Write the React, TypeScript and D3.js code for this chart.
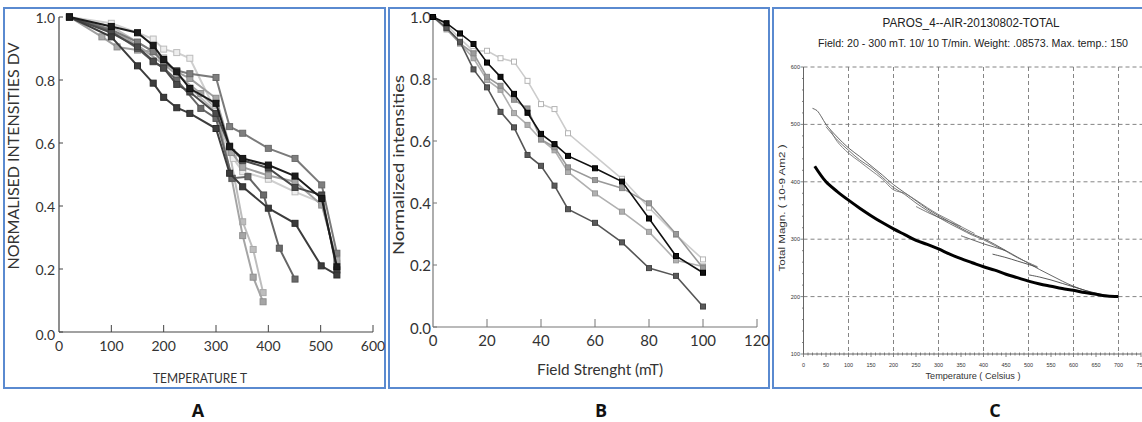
import React from "react";
import * as d3 from "d3";

// ---------- Panel A data: [temperature, normalised intensity] ----------
const aSeries1 = [[20,1.0],[100,0.97],[150,0.95],[180,0.91],[200,0.865],[225,0.826],[250,0.773],[300,0.726],[326,0.588],[351,0.551],[400,0.53],[451,0.495],[502,0.424],[531,0.207]];
const aSeries2 = [[20,1.0],[100,0.937],[150,0.845],[180,0.79],[200,0.745],[225,0.712],[250,0.694],[300,0.646],[326,0.504],[351,0.461],[400,0.393],[451,0.345],[501,0.21],[531,0.181]];
const aSeries3 = [[20,1.0],[100,0.96],[150,0.92],[180,0.89],[200,0.855],[225,0.83],[250,0.82],[300,0.808],[326,0.652],[351,0.631],[400,0.583],[451,0.551],[502,0.467],[531,0.25]];
const aSeries4 = [[20,1.0],[100,0.95],[150,0.905],[180,0.86],[200,0.838],[225,0.786],[250,0.762],[300,0.694],[326,0.59],[351,0.545],[400,0.52],[451,0.459],[502,0.435],[531,0.197]];
const aSeries5 = [[20,1.0],[100,0.98],[150,0.95],[180,0.93],[200,0.898],[225,0.887],[250,0.869],[300,0.7],[333,0.551],[351,0.509],[400,0.485],[451,0.445],[502,0.41],[531,0.218]];
const aSeries6 = [[20,1.0],[82,0.937],[111,0.905],[150,0.895],[180,0.89],[200,0.86],[225,0.826],[250,0.805],[300,0.742],[330,0.57],[351,0.523],[400,0.497],[451,0.477],[502,0.403],[531,0.228]];
const aSeries7 = [[20,1.0],[100,0.955],[150,0.9],[180,0.858],[200,0.838],[225,0.8],[271,0.71],[300,0.678],[331,0.488],[361,0.493],[391,0.435],[421,0.266],[451,0.168]];
const aSeries8 = [[20,1.0],[100,0.97],[150,0.92],[200,0.87],[250,0.775],[300,0.70],[326,0.57],[351,0.35],[371,0.262],[390,0.125]];
const aSeries9 = [[20,1.0],[100,0.96],[150,0.91],[200,0.85],[271,0.757],[300,0.71],[330,0.487],[351,0.306],[371,0.174],[390,0.096]];
const aXTicks = [0, 100, 200, 300, 400, 500, 600];
const aYTicks = [0, 0.2, 0.4, 0.6, 0.8, 1.0];

// ---------- Panel B data: [field mT, normalized intensity] ----------
const bSeries1 = [[0,1],[5,0.98],[10,0.947],[15,0.913],[20,0.853],[25,0.807],[30,0.752],[35,0.691],[40,0.623],[45,0.59],[50,0.552],[60,0.512],[70,0.469],[80,0.35],[90,0.229],[100,0.175]];
const bSeries2 = [[0,1],[5,0.975],[10,0.93],[15,0.89],[20,0.891],[25,0.867],[30,0.856],[35,0.794],[40,0.719],[45,0.703],[50,0.625],[70,0.478],[80,0.385],[90,0.297],[100,0.218]];
const bSeries3 = [[0,1],[5,0.965],[10,0.915],[15,0.883],[20,0.807],[25,0.778],[30,0.733],[35,0.705],[40,0.605],[45,0.58],[50,0.515],[60,0.474],[70,0.448],[80,0.399],[90,0.3],[100,0.19]];
const bSeries4 = [[0,1],[5,0.96],[10,0.915],[15,0.867],[20,0.797],[25,0.765],[30,0.69],[35,0.652],[40,0.605],[45,0.57],[50,0.5],[60,0.431],[70,0.372],[80,0.307],[90,0.215],[100,0.195]];
const bSeries5 = [[0,1],[5,0.965],[10,0.92],[15,0.831],[20,0.773],[25,0.694],[30,0.644],[35,0.555],[40,0.52],[45,0.456],[50,0.38],[60,0.336],[70,0.273],[80,0.19],[90,0.165],[100,0.066]];
const bXTicks = [0, 20, 40, 60, 80, 100, 120];
const bYTicks = [0, 0.2, 0.4, 0.6, 0.8, 1.0];

// ---------- Panel C data: [temperature C, total magnetisation] ----------
const cThin1 = [[20,528],[30,524],[40,513],[50,500],[75,478],[100,459],[125,444],[150,428],[175,412],[200,395],[225,381],[250,367],[275,353],[300,341],[325,330],[350,319],[375,309],[400,301],[425,291],[450,280],[475,269],[500,258],[525,247],[550,237],[575,227],[600,218],[625,211],[650,205],[675,201],[700,200]];
const cThin2 = [[50,496],[75,473],[100,455],[125,438],[150,425],[175,408],[200,390],[225,378],[250,363],[275,350],[300,338],[325,327],[350,317],[375,307],[400,299],[425,289],[450,279],[475,268],[500,259],[520,252]];
const cThin3 = [[60,490],[75,470],[100,450],[125,435],[150,420],[175,405],[200,386],[225,380],[250,368],[275,355],[300,343],[325,333],[350,322],[380,310]];
const cSeg1 = [[250,357],[275,347],[300,338],[325,330],[350,322]];
const cSeg2 = [[350,306],[375,299],[400,292],[425,286],[450,280]];
const cSeg3 = [[420,274],[450,268],[475,262],[500,256],[520,251]];
const cSeg4 = [[500,238],[525,234],[550,229],[575,223],[600,217],[625,211],[650,206],[675,202],[700,200]];
const cBold = [[25,427],[50,400],[75,383],[100,368],[125,354],[150,341],[175,329],[200,318],[225,308],[250,298],[275,291],[300,283],[325,274],[350,266],[375,259],[400,252],[425,246],[450,239],[475,233],[500,227],[525,222],[550,218],[575,214],[600,211],[625,207],[650,204],[675,201],[700,200]];
const cXTicks = [0, 50, 100, 150, 200, 250, 300, 350, 400, 450, 500, 550, 600, 650, 700, 750];
const cYTicks = [100, 200, 300, 400, 500, 600];

const cTitle = "PAROS_4--AIR-20130802-TOTAL";
const cSubtitle = "Field: 20 - 300 mT. 10/ 10 T/min. Weight:  .08573. Max. temp.:  150";

const BORDER = "#5a8ad0";
const FONT_AB = "Lato, 'Open Sans', sans-serif";
const FONT_C = "'Liberation Sans', Arial, sans-serif";

type Pt = number[];

function Markers({ data, x, y, fill, stroke, size }: any) {
  return (
    <g>
      {data.map((d: Pt, i: number) => (
        <rect key={i} x={x(d[0]) - size / 2} y={y(d[1]) - size / 2} width={size} height={size}
          fill={fill} stroke={stroke} strokeWidth={1} />
      ))}
    </g>
  );
}

function PanelA() {
  const x = d3.scaleLinear().domain([0, 600]).range([59, 373]);
  const y = d3.scaleLinear().domain([0, 1]).range([332, 17]);
  const line = d3.line<Pt>().x(d => x(d[0])).y(d => y(d[1]));
  const styles = [
    { data: aSeries8, line: "#bdbdbd", fill: "#bdbdbd", stroke: "#a8a8a8" },
    { data: aSeries9, line: "#a5a5a5", fill: "#a5a5a5", stroke: "#8f8f8f" },
    { data: aSeries5, line: "#cfcfcf", fill: "#eeeeee", stroke: "#bcbcbc" },
    { data: aSeries6, line: "#a0a0a0", fill: "#a8a8a8", stroke: "#8c8c8c" },
    { data: aSeries3, line: "#7a7a7a", fill: "#7e7e7e", stroke: "#6a6a6a" },
    { data: aSeries7, line: "#666666", fill: "#6a6a6a", stroke: "#555" },
    { data: aSeries4, line: "#4a4a4a", fill: "#4a4a4a", stroke: "#3a3a3a" },
    { data: aSeries2, line: "#3c3c3c", fill: "#3c3c3c", stroke: "#2c2c2c" },
    { data: aSeries1, line: "#1c1c1c", fill: "#1c1c1c", stroke: "#111" },
  ];
  return (
    <g>
      <rect x={4} y={8} width={381} height={380} fill="white" stroke={BORDER} strokeWidth={2} />
      <line x1={59} x2={59} y1={y(1)} y2={y(0)} stroke="#444" strokeWidth={1.2} />
      <line x1={59} x2={x(600)} y1={y(0)} y2={y(0)} stroke="#444" strokeWidth={1.2} />
      {aYTicks.map(t => (
        <g key={t}>
          <line x1={59} x2={63} y1={y(t)} y2={y(t)} stroke="#444" strokeWidth={1} />
          <text x={55} y={y(t) + (t === 0 ? 2 : 0)} textAnchor="end" dominantBaseline="central"
            fontFamily={FONT_AB} fontSize={14} fill="#333">{t.toFixed(1)}</text>
        </g>
      ))}
      {aXTicks.map(t => (
        <g key={t}>
          {t > 0 && <line x1={x(t)} x2={x(t)} y1={y(0)} y2={y(0) - 7} stroke="#444" strokeWidth={1} />}
          <text x={x(t)} y={351} textAnchor="middle" fontFamily={FONT_AB} fontSize={14} fill="#333">{t}</text>
        </g>
      ))}
      <text x={200} y={383} textAnchor="middle" fontFamily={FONT_AB} fontSize={14} fill="#333"
        textLength={94} lengthAdjust="spacingAndGlyphs">TEMPERATURE T</text>
      <text transform="translate(19,156) rotate(-90)" textAnchor="middle" fontFamily={FONT_AB} fontSize={15} fill="#333"
        textLength={227} lengthAdjust="spacingAndGlyphs">NORMALISED INTENSITIES DV</text>
      {styles.map((s, i) => (
        <g key={i}>
          <path d={line(s.data as Pt[]) || ""} fill="none" stroke={s.line} strokeWidth={2} />
          <Markers data={s.data} x={x} y={y} fill={s.fill} stroke={s.stroke} size={6} />
        </g>
      ))}
      <text x={198} y={417} textAnchor="middle" fontFamily="'Open Sans', sans-serif" fontWeight="bold" fontSize={18} fill="#111">A</text>
    </g>
  );
}

function PanelB() {
  const x = d3.scaleLinear().domain([0, 120]).range([433, 757]);
  const y = d3.scaleLinear().domain([0, 1]).range([327, 17]);
  const line = d3.line<Pt>().x(d => x(d[0])).y(d => y(d[1]));
  const styles = [
    { data: bSeries2, line: "#cccccc", fill: "#ffffff", stroke: "#b5b5b5" },
    { data: bSeries4, line: "#b0b0b0", fill: "#b0b0b0", stroke: "#9a9a9a" },
    { data: bSeries3, line: "#999999", fill: "#9a9a9a", stroke: "#888" },
    { data: bSeries5, line: "#555555", fill: "#5a5a5a", stroke: "#444" },
    { data: bSeries1, line: "#111111", fill: "#111111", stroke: "#000" },
  ];
  return (
    <g>
      <rect x={389} y={8} width={380} height={380} fill="white" stroke={BORDER} strokeWidth={2} />
      <line x1={433} x2={433} y1={y(1)} y2={y(0)} stroke="#777" strokeWidth={1.2} />
      <line x1={433} x2={x(120)} y1={y(0)} y2={y(0)} stroke="#777" strokeWidth={1.2} />
      {bYTicks.map(t => (
        <g key={t}>
          <line x1={433} x2={437} y1={y(t)} y2={y(t)} stroke="#777" strokeWidth={1} />
          <text x={431} y={y(t) + (t === 0 ? 1 : 0)} textAnchor="end" dominantBaseline="central"
            fontFamily={FONT_AB} fontSize={15} fill="#333">{t.toFixed(1)}</text>
        </g>
      ))}
      {bXTicks.map(t => (
        <g key={t}>
          {t > 0 && <line x1={x(t)} x2={x(t)} y1={y(0)} y2={y(0) - 8} stroke="#777" strokeWidth={1} />}
          <text x={x(t)} y={346} textAnchor="middle" fontFamily={FONT_AB} fontSize={15} fill="#333">{t}</text>
        </g>
      ))}
      <text x={600} y={375} textAnchor="middle" fontFamily={FONT_AB} fontSize={16} fill="#333"
        textLength={126} lengthAdjust="spacingAndGlyphs">Field Strenght (mT)</text>
      <text transform="translate(404,165) rotate(-90)" textAnchor="middle" fontFamily={FONT_AB} fontSize={16} fill="#333"
        textLength={180} lengthAdjust="spacingAndGlyphs">Normalized intensities</text>
      {styles.map((s, i) => (
        <g key={i}>
          <path d={line(s.data as Pt[]) || ""} fill="none" stroke={s.line} strokeWidth={1.6} />
          <Markers data={s.data} x={x} y={y} fill={s.fill} stroke={s.stroke} size={5} />
        </g>
      ))}
      <text x={601} y={417} textAnchor="middle" fontFamily="'Open Sans', sans-serif" fontWeight="bold" fontSize={18} fill="#111">B</text>
    </g>
  );
}

function PanelC() {
  const x = d3.scaleLinear().domain([0, 750]).range([803.5, 1141]);
  const y = d3.scaleLinear().domain([100, 600]).range([354, 67]);
  const line = d3.line<Pt>().x(d => x(d[0])).y(d => y(d[1])).curve(d3.curveCatmullRom);
  const thin = [cThin1, cThin2, cThin3, cSeg1, cSeg2, cSeg3, cSeg4];
  const thinColors = ["#555", "#666", "#777", "#666", "#555", "#444", "#444"];
  const minorY = d3.range(100, 601, 20);
  const minorX = d3.range(0, 751, 10);
  return (
    <g>
      <rect x={773} y={8} width={380} height={380} fill="white" stroke={BORDER} strokeWidth={2} />
      <text x={971} y={27} textAnchor="middle" fontFamily={FONT_C} fontSize={12} fill="#222"
        textLength={177} lengthAdjust="spacingAndGlyphs">{cTitle}</text>
      <text x={973} y={47} textAnchor="middle" fontFamily={FONT_C} fontSize={10} fill="#222"
        textLength={310} lengthAdjust="spacingAndGlyphs">{cSubtitle}</text>
      {cYTicks.filter(t => t > 100).map(t => (
        <line key={"gy" + t} x1={x(0)} x2={1142} y1={y(t)} y2={y(t)} stroke="#777" strokeWidth={0.9} strokeDasharray="4,3" />
      ))}
      {[100, 200, 300, 400, 500, 600, 700].map(t => (
        <line key={"gx" + t} x1={x(t)} x2={x(t)} y1={y(600)} y2={y(100)} stroke="#777" strokeWidth={0.9} strokeDasharray="4,3" />
      ))}
      <line x1={x(0)} x2={x(0)} y1={y(600)} y2={y(100)} stroke="#666" strokeWidth={1} />
      <line x1={x(0)} x2={x(750)} y1={y(100)} y2={y(100)} stroke="#666" strokeWidth={1} />
      {minorY.map(t => (
        <line key={"my" + t} x1={x(0) - (t % 100 === 0 ? 3 : 1.5)} x2={x(0)} y1={y(t)} y2={y(t)} stroke="#666" strokeWidth={0.8} />
      ))}
      {minorX.map(t => (
        <line key={"mx" + t} x1={x(t)} x2={x(t)} y1={y(100) - 1.5} y2={y(100) + (t % 50 === 0 ? 3 : 1.5)} stroke="#666" strokeWidth={0.8} />
      ))}
      {cYTicks.map(t => (
        <text key={"ly" + t} x={800} y={y(t)} textAnchor="end" dominantBaseline="central" fontFamily={FONT_C} fontSize={5.5} fill="#333">{t}</text>
      ))}
      {cXTicks.map(t => (
        <text key={"lx" + t} x={x(t)} y={367} textAnchor="middle" fontFamily={FONT_C} fontSize={5.5} fill="#333">{t}</text>
      ))}
      <text x={973} y={379} textAnchor="middle" fontFamily={FONT_C} fontSize={9} fill="#333"
        textLength={95} lengthAdjust="spacingAndGlyphs">Temperature ( Celsius )</text>
      <text transform="translate(785,208) rotate(-90)" textAnchor="middle" fontFamily={FONT_C} fontSize={9} fill="#333"
        textLength={127} lengthAdjust="spacingAndGlyphs">Total Magn. ( 10-9  Am2 )</text>
      {thin.map((d, i) => (
        <path key={i} d={line(d as Pt[]) || ""} fill="none" stroke={thinColors[i]} strokeWidth={0.9} />
      ))}
      <path d={line(cBold as Pt[]) || ""} fill="none" stroke="#000" strokeWidth={3} />
      <text x={995} y={417} textAnchor="middle" fontFamily="'Open Sans', sans-serif" fontWeight="bold" fontSize={18} fill="#111">C</text>
    </g>
  );
}

export default function App() {
  return (
    <svg width={1142} height={422} viewBox="0 0 1142 422"
      style={{ position: "absolute", left: 0, top: 0, background: "white" }}>
      <rect x={0} y={0} width={1142} height={422} fill="white" />
      <PanelA />
      <PanelB />
      <PanelC />
    </svg>
  );
}
